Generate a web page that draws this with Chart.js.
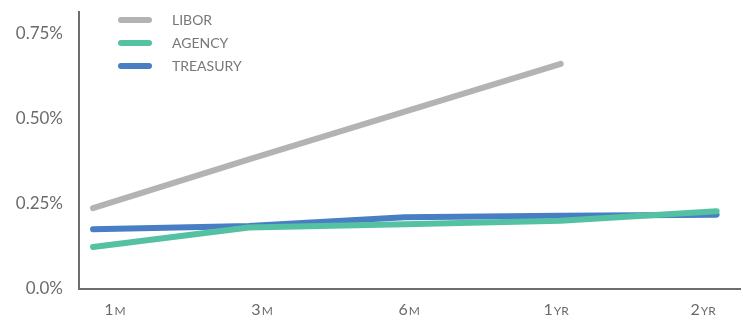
<!DOCTYPE html>
<html>
<head>
<meta charset="utf-8">
<script src="https://cdn.jsdelivr.net/npm/chart.js@4/dist/chart.umd.min.js"></script>
<style>
  html, body { margin: 0; padding: 0; background: #fff; }
  #wrap { position: relative; width: 743px; height: 324px; }
  #legend { position: absolute; left: 118px; top: 8px; font-family: Lato, "Open Sans", sans-serif; font-size: 14px; color: #777; }
  .item { display: flex; align-items: center; height: 23px; }
  .swatch { width: 34px; height: 6px; border-radius: 3px; margin-right: 20px; }
</style>
</head>
<body>
<div id="wrap">
  <canvas id="c" width="743" height="324"></canvas>
  <div id="legend"></div>
</div>
<script>
const categories = ["1M", "3M", "6M", "1YR", "2YR"];
const libor = [0.237, 0.38, 0.52, 0.66, null];
const agency = [0.123, 0.18, 0.19, 0.20, 0.228];
const treasury = [0.175, 0.185, 0.21, 0.215, 0.218];
const yTicks = [0, 0.25, 0.5, 0.75];
const yTickLabels = ["0.0%", "0.25%", "0.50%", "0.75%"];

const seriesNames = ["LIBOR", "AGENCY", "TREASURY"];
const seriesColors = ["#b3b3b3", "#55c1a3", "#487ec3"];
const seriesValues = [libor, agency, treasury];

const toPoints = arr => arr.map((v, i) => ({ x: i, y: v }));

const datasets = seriesValues.map((vals, k) => ({
  label: seriesNames[k],
  data: toPoints(vals),
  borderColor: seriesColors[k],
  backgroundColor: seriesColors[k],
  borderWidth: 6,
  borderCapStyle: 'round',
  borderJoinStyle: 'round',
  pointRadius: 0,
  tension: 0,
  spanGaps: false,
  xAxisID: 'x',
  yAxisID: 'y'
}));

const FONT = "Lato, 'Open Sans', sans-serif";
const TICK_COLOR = '#6b6b6b';

// draws x labels with a small-caps suffix (e.g. "1" large + "M" small)
const smallCapsLabels = {
  id: 'smallCapsLabels',
  afterDraw(chart) {
    const s = chart.scales.x2;
    const ctx = chart.ctx;
    ctx.save();
    ctx.fillStyle = TICK_COLOR;
    ctx.textBaseline = 'alphabetic';
    ctx.textAlign = 'left';
    const baseY = s.top + 26;
    categories.forEach((lab, i) => {
      const m = lab.match(/^(\d+)(.*)$/);
      const num = m ? m[1] : lab, suf = m ? m[2] : '';
      ctx.font = '16px ' + FONT;
      const w1 = ctx.measureText(num).width;
      ctx.font = '12px ' + FONT;
      const w2 = ctx.measureText(suf).width;
      const x0 = s.getPixelForValue(i) - (w1 + w2 + 1) / 2;
      ctx.font = '16px ' + FONT;
      ctx.fillText(num, x0, baseY);
      ctx.font = '12px ' + FONT;
      ctx.fillText(suf, x0 + w1 + 1, baseY);
    });
    ctx.restore();
  }
};

new Chart(document.getElementById('c'), {
  type: 'line',
  data: { datasets },
  plugins: [smallCapsLabels],
  options: {
    responsive: false,
    animation: false,
    layout: { padding: { top: 12, right: 3, left: 0, bottom: 0 } },
    plugins: { legend: { display: false }, tooltip: { enabled: false } },
    scales: {
      x: {
        type: 'linear', display: false, min: -0.09, max: 4.15
      },
      x2: {
        type: 'linear', position: 'bottom', min: -0.245, max: 4.25,
        grid: { display: false, drawTicks: false },
        border: { display: true, color: '#6e6e70', width: 2 },
        afterBuildTicks: s => { s.ticks = categories.map((c, i) => ({ value: i })); },
        afterFit: s => { s.height = 35; s.paddingLeft = 0; s.paddingRight = 0; },
        ticks: {
          display: false
        }
      },
      y: {
        type: 'linear', min: 0, max: 0.812,
        grid: { display: false, drawTicks: false },
        border: { display: true, color: '#6e6e70', width: 2 },
        afterBuildTicks: s => { s.ticks = yTicks.map(v => ({ value: v })); },
        afterFit: s => { s.width = 79; s.paddingTop = 0; s.paddingBottom = 0; },
        ticks: {
          padding: 16,
          color: TICK_COLOR,
          font: { family: FONT, size: 17 },
          callback: v => yTickLabels[yTicks.indexOf(v)]
        }
      }
    }
  }
});

const legend = document.getElementById('legend');
seriesNames.forEach((n, k) => {
  const d = document.createElement('div');
  d.className = 'item';
  d.innerHTML = '<span class="swatch" style="background:' + seriesColors[k] + '"></span><span>' + n + '</span>';
  legend.appendChild(d);
});
</script>
</body>
</html>
